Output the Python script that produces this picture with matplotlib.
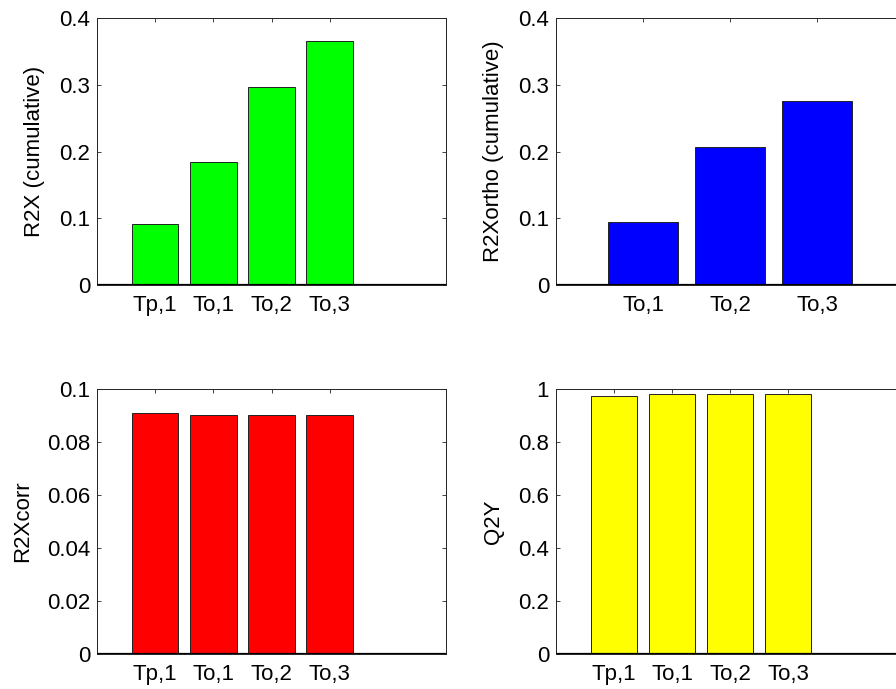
import matplotlib
matplotlib.use("Agg")
import matplotlib.pyplot as plt
from matplotlib.ticker import FuncFormatter

plt.rcParams['font.family'] = ['Liberation Sans', 'DejaVu Sans']
plt.rcParams['font.size'] = 16

# Component labels
labels_all = ["Tp,1", "To,1", "To,2", "To,3"]
labels_ortho = ["To,1", "To,2", "To,3"]

# Model statistics per component
r2x_cum = [0.0914, 0.184, 0.296, 0.365]
r2x_ortho_cum = [0.095, 0.207, 0.275]
r2x_corr = [0.0909, 0.0902, 0.0902, 0.0902]
q2y = [0.972, 0.981, 0.981, 0.981]

fig = plt.figure(figsize=(8.96, 6.89), dpi=100)

W, H = 896.0, 689.0
def box(l, t, r, b):
    return [l / W, (H - b) / H, (r - l) / W, (b - t) / H]

fmt = FuncFormatter(lambda v, p: "%g" % round(v, 6))

def panel(rect, labels, values, color, ylabel, ymax, ystep, xmax):
    ax = fig.add_axes(rect)
    x = list(range(1, len(values) + 1))
    ax.bar(x, values, width=0.8, color=color, edgecolor="#222222",
           linewidth=0.7, zorder=2)
    ax.set_xlim(0, xmax)
    ax.set_ylim(0, ymax)
    ax.set_xticks(x)
    ax.set_xticklabels(labels)
    n = int(round(ymax / ystep))
    ax.set_yticks([i * ystep for i in range(n + 1)])
    ax.yaxis.set_major_formatter(fmt)
    ax.set_ylabel(ylabel, labelpad=10)
    ax.tick_params(direction="in", length=3, width=0.6, top=True, right=True,
                   colors="#222222", labelcolor="black")
    ax.tick_params(axis="x", pad=7.5)
    ax.tick_params(axis="y", pad=5)
    for s in ax.spines.values():
        s.set_linewidth(0.7)
        s.set_color("#222222")
    ax.axhline(0, color="black", linewidth=1.6, zorder=3)
    return ax

panel(box(97, 18, 446, 285), labels_all, r2x_cum, "#00FF00",
      "R2X (cumulative)", 0.4, 0.1, 6)
panel(box(556, 18, 904, 285), labels_ortho, r2x_ortho_cum, "#0000FF",
      "R2Xortho (cumulative)", 0.4, 0.1, 4)
panel(box(97, 389, 446, 654), labels_all, r2x_corr, "#FF0000",
      "R2Xcorr", 0.1, 0.02, 6)
panel(box(556, 389, 904, 654), labels_all, q2y, "#FFFF00",
      "Q2Y", 1.0, 0.2, 6)

fig.savefig("out.png", dpi=100)
